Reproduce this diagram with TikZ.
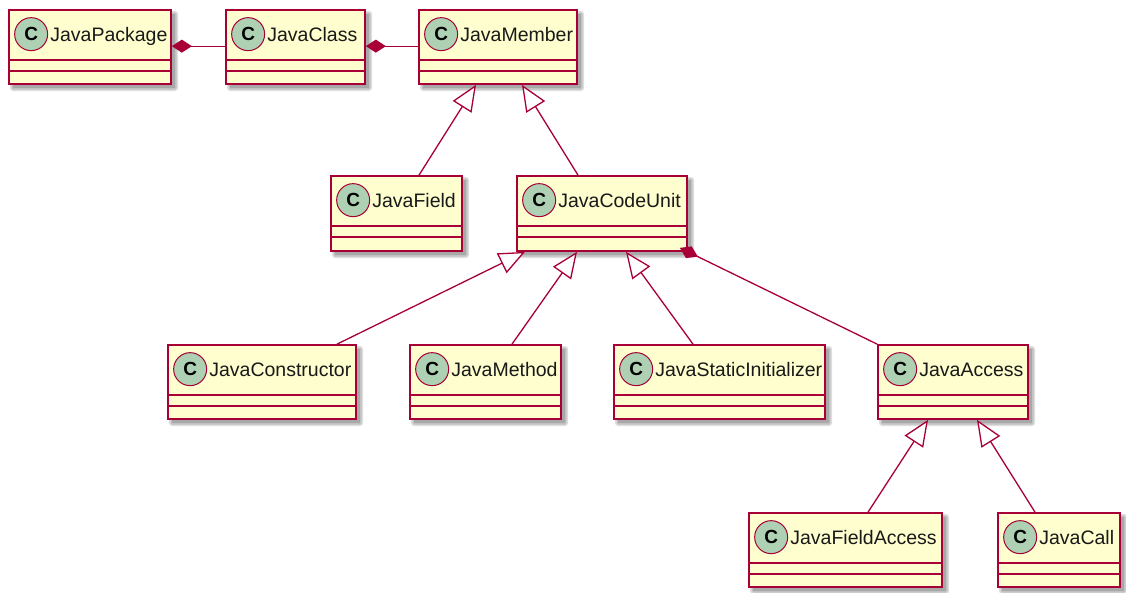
\documentclass[tikz,border=0pt]{standalone}
\usepackage{fontspec}
\setmainfont{Liberation Sans}
\usetikzlibrary{arrows.meta,calc}
\definecolor{umlborder}{HTML}{A80036}
\definecolor{umlfill}{HTML}{FEFECE}
\definecolor{umlcirc}{HTML}{ADD1B2}
\tikzset{
  clsbox/.style={draw=umlborder, fill=umlfill, line width=1.7pt, inner sep=0pt, rectangle},
  sepline/.style={draw=umlborder, line width=1.6pt},
  circ/.style={circle, draw=umlborder, fill=umlcirc, line width=1pt, minimum size=33pt, inner sep=0pt, font=\fontsize{19}{22}\selectfont\bfseries},
  lbl/.style={inner sep=0pt, font=\fontsize{19.5}{23}\selectfont, text=black!90},
  conn/.style={draw=umlborder, line width=1.3pt},
  inherit/.style={conn, {Triangle[open, length=26pt, width=22pt, fill=white]}-},
  compo/.style={conn, {Diamond[length=20pt, width=13pt, fill=umlborder]}-},
  shadowbox/.style={fill=black, opacity=0.13, draw=none}
}
% #1 name, #2 left, #3 top, #4 right, #5 bottom, #6 label
\newcommand\umlclass[6]{%
  \foreach \e in {0,1.5,3}{
    \fill[shadowbox, rounded corners=\e pt] ({#2+4-\e},{#3+4-\e}) rectangle ({#4+4+\e},{#5+4+\e});
  }
  \node[clsbox, minimum width={(#4-#2)*1pt}, minimum height={(#5-#3)*1pt}] (#1) at ({(#2+#4)/2},{(#3+#5)/2}) {};
  \draw[sepline] ([yshift=-51pt]#1.north west) -- ([yshift=-51pt]#1.north east);
  \draw[sepline] ([yshift=-62pt]#1.north west) -- ([yshift=-62pt]#1.north east);
  \node[circ] (#1c) at ([xshift=23pt,yshift=-25pt]#1.north west) {C};
  \node[lbl, anchor=base west] (#1t) at ([xshift=42pt,yshift=-32pt]#1.north west) {#6};
}
\begin{document}
\begin{tikzpicture}[x=1pt, y=-1pt]
\useasboundingbox (0,0) rectangle (1126,592);
\fill[white] (0,0) rectangle (1126,592);

\umlclass{pkg}{9}{10}{171}{84}{JavaPackage}
\umlclass{cls}{226}{10}{365}{84}{JavaClass}
\umlclass{mem}{419}{10}{577}{84}{JavaMember}
\umlclass{fld}{331}{176}{462}{251}{JavaField}
\umlclass{cu}{517}{176}{687}{251}{JavaCodeUnit}
\umlclass{ctor}{168}{345}{356}{419}{JavaConstructor}
\umlclass{meth}{410}{345}{561}{419}{JavaMethod}
\umlclass{stat}{614}{345}{825}{419}{JavaStaticInitializer}
\umlclass{acc}{878}{345}{1028}{419}{JavaAccess}
\umlclass{fa}{749}{513}{942}{587}{JavaFieldAccess}
\umlclass{call}{998}{513}{1120}{587}{JavaCall}

% compositions
\draw[compo] ([yshift=-37pt]pkg.north east) -- ([yshift=-37pt]cls.north west);
\draw[compo] ([yshift=-37pt]cls.north east) -- ([yshift=-37pt]mem.north west);
\draw[compo] ([xshift=-8pt,yshift=4pt]cu.south east) -- (acc.north west);

% inheritance
\draw[inherit] ([xshift=-22pt]mem.south) -- ([xshift=22.5pt]fld.north);
\draw[inherit] ([xshift=24pt]mem.south) -- ([xshift=-24pt]cu.north);
\draw[inherit] ([xshift=-77pt]cu.south) -- ([xshift=75pt]ctor.north);
\draw[inherit] ([xshift=-25pt]cu.south) -- ([xshift=26.5pt]meth.north);
\draw[inherit] ([xshift=24pt]cu.south) -- ([xshift=-26.5pt]stat.north);
\draw[inherit] ([xshift=-25pt]acc.south) -- ([xshift=22.5pt]fa.north);
\draw[inherit] ([xshift=24pt]acc.south) -- ([xshift=-24pt]call.north);
\end{tikzpicture}
\end{document}
